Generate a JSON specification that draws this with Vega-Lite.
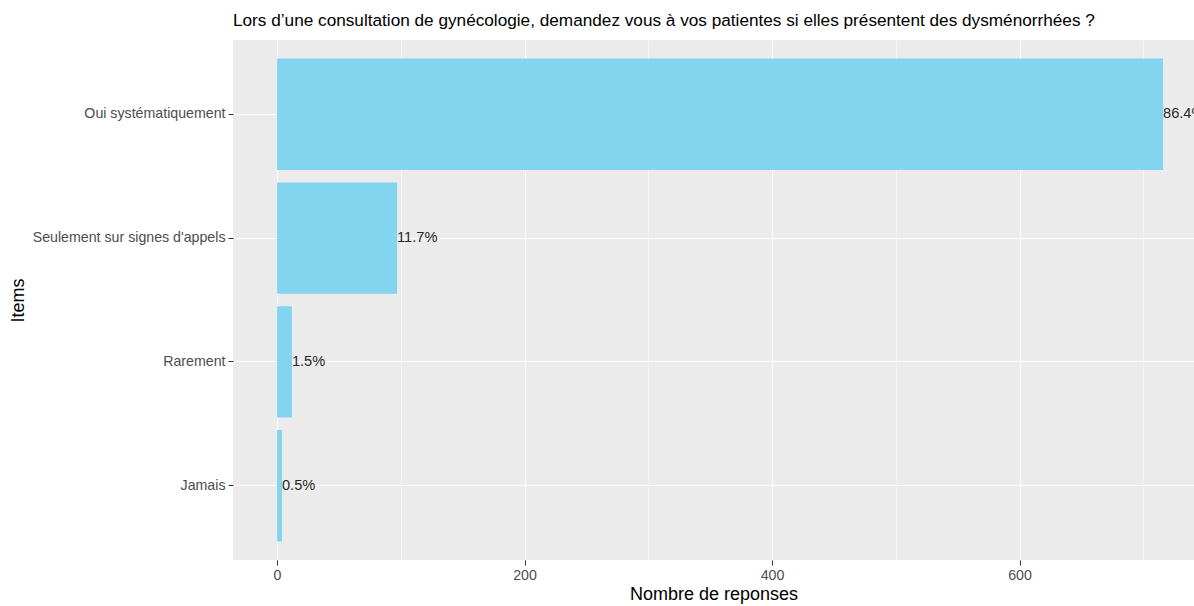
{
  "$schema": "https://vega.github.io/schema/vega-lite/v6.json",
  "width": 961,
  "height": 520,
  "autosize": {"type": "none"},
  "padding": {"left": 233, "top": 40, "right": 0, "bottom": 46},
  "background": "white",
  "config": {
    "font": "Liberation Sans",
    "view": {"fill": "#EBEBEB", "stroke": null}
  },
  "title": {
    "text": "Lors d’une consultation de gynécologie, demandez vous à vos patientes si elles présentent des dysménorrhées ?",
    "anchor": "start",
    "frame": "group",
    "fontSize": 17.2,
    "fontWeight": "normal",
    "color": "#000000",
    "offset": 11
  },
  "data": {
    "values": [
      {"item": "Oui systématiquement", "n": 716, "pct": "86.4%"},
      {"item": "Seulement sur signes d'appels", "n": 97, "pct": "11.7%"},
      {"item": "Rarement", "n": 12, "pct": "1.5%"},
      {"item": "Jamais", "n": 4, "pct": "0.5%"}
    ]
  },
  "encoding": {
    "y": {
      "field": "item",
      "type": "nominal",
      "sort": ["Oui systématiquement", "Seulement sur signes d'appels", "Rarement", "Jamais"],
      "scale": {"paddingInner": 0.1, "paddingOuter": 0.15},
      "axis": {
        "title": "Items",
        "titleFontSize": 18,
        "titleFontWeight": "normal",
        "titleColor": "#000000",
        "titlePadding": 6,
        "labelFontSize": 14.2,
        "labelLimit": 0,
        "labelColor": "#4D4D4D",
        "labelPadding": 3,
        "tickSize": 5,
        "tickColor": "#333333",
        "domain": false,
        "grid": true,
        "gridColor": "#FFFFFF",
        "gridWidth": 1.1
      }
    },
    "x": {
      "field": "n",
      "type": "quantitative",
      "scale": {"domain": [-35.6, 741], "nice": false, "zero": false},
      "axis": {
        "title": "Nombre de reponses",
        "titleFontSize": 18,
        "titleFontWeight": "normal",
        "titleColor": "#000000",
        "titlePadding": 3,
        "values": [0, 100, 200, 300, 400, 500, 600, 700],
        "labelExpr": "datum.value % 200 === 0 ? datum.label : ''",
        "labelFontSize": 14.2,
        "labelColor": "#4D4D4D",
        "labelPadding": 3,
        "tickSize": 5,
        "tickColor": "#333333",
        "tickOpacity": {"condition": {"test": "datum.value % 200 === 0", "value": 1}, "value": 0},
        "domain": false,
        "grid": true,
        "gridColor": "#FFFFFF",
        "gridWidth": {"condition": {"test": "datum.value % 200 === 0", "value": 1.1}, "value": 0.5}
      }
    }
  },
  "layer": [
    {
      "mark": {"type": "bar", "color": "#82D4EF"}
    },
    {
      "mark": {"type": "text", "align": "left", "baseline": "middle", "fontSize": 14.6, "color": "#262626", "dx": 0},
      "encoding": {"text": {"field": "pct"}}
    }
  ]
}
